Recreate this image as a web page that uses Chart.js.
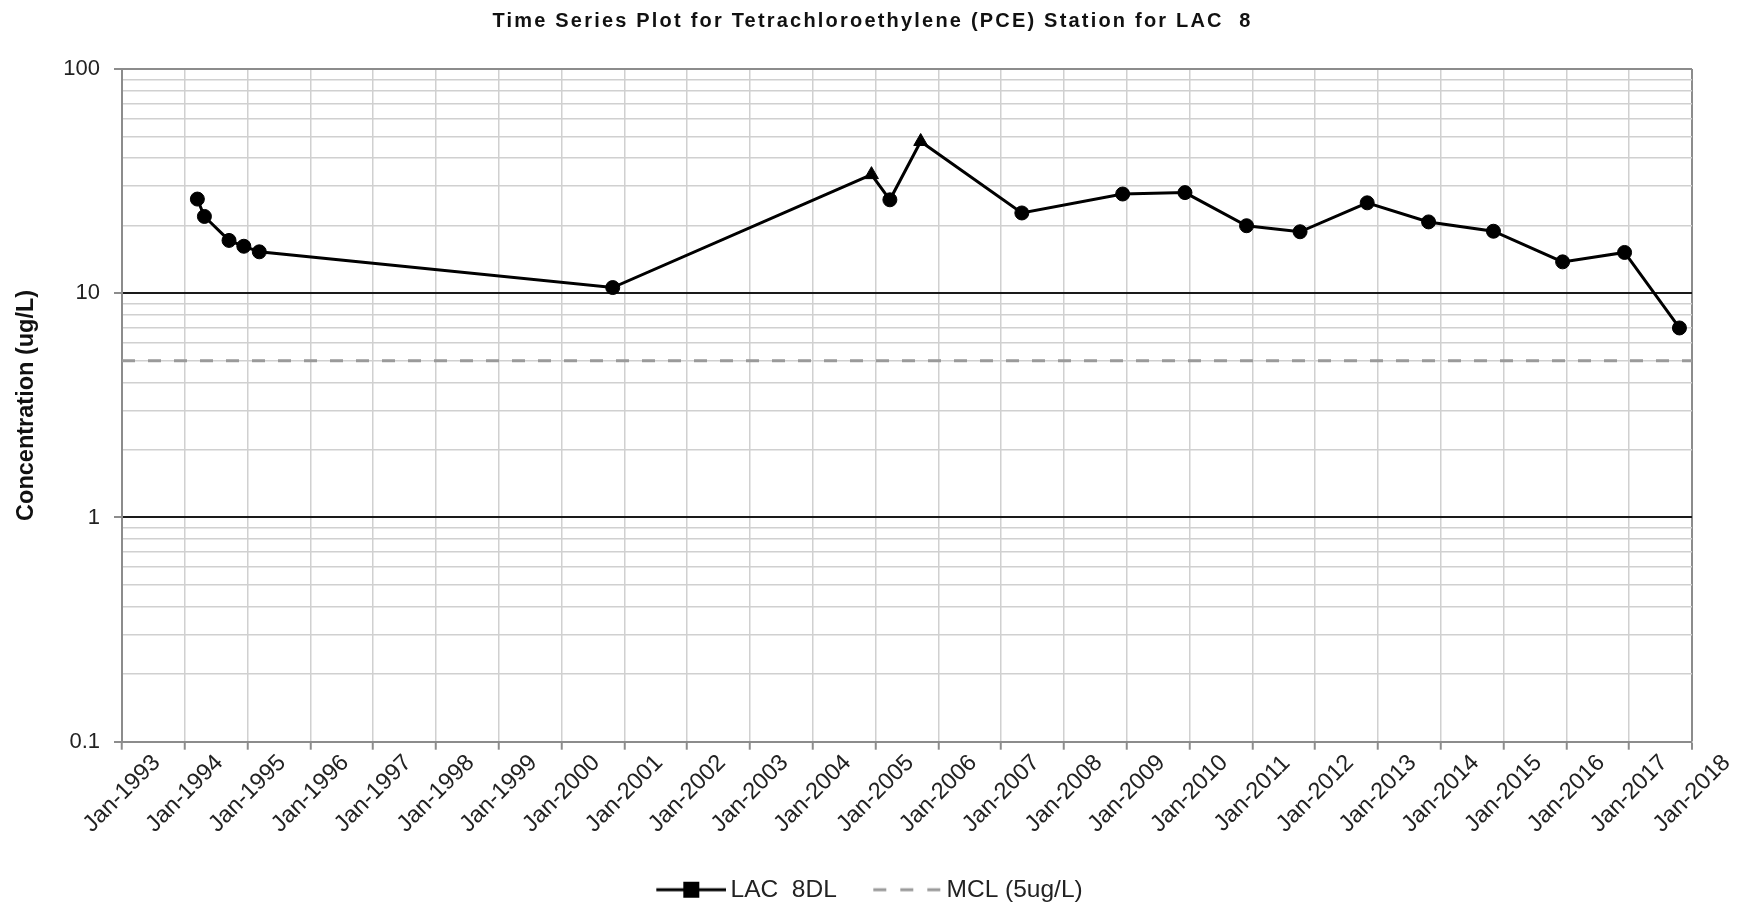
<!DOCTYPE html>
<html>
<head>
<meta charset="utf-8">
<title>PCE Time Series - LAC 8</title>
<script src="https://cdn.jsdelivr.net/npm/chart.js@4.4.1/dist/chart.umd.min.js"></script>
<style>
    html, body { margin: 0; padding: 0; background: #fff; }
    #wrap { width: 1745px; height: 907px; }
</style>
</head>
<body>
<div id="wrap"><canvas id="pceChart" width="1745" height="907"></canvas></div>
<script>
// ================= DATA =================

const sampleDates = [
    "1994-03-15", "1994-04-25", "1994-09-15", "1994-12-10", "1995-03-10",
    "2000-10-25", "2004-12-08", "2005-03-25", "2005-09-20", "2007-05-01",
    "2008-12-08", "2009-12-05", "2010-11-28", "2011-10-05", "2012-10-30",
    "2013-10-22", "2014-11-03", "2015-12-10", "2016-12-05", "2017-10-20",
];

// PCE results in ug/L
const pceValues = [
    26.3, 22.0, 17.2, 16.2, 15.3,
    10.6, 33.8, 26.1, 47.5, 22.8,
    27.7, 28.1, 20.0, 18.8, 25.3,
    20.8, 18.9, 13.8, 15.2, 7.0,
];

// "J" = estimated result (plotted as a triangle)
const qualifiers = [
    "", "", "", "", "",
    "", "J", "", "J", "",
    "", "", "", "", "",
    "", "", "", "", "",
];

const mclValue = 5;
const yearRange = [1993, 2018];
const yTickLabels = [0.1, 1, 10, 100];

const seriesLabel = "LAC  8DL";
const mclLabel = "MCL (5ug/L)";
const chartTitle = "Time Series Plot for Tetrachloroethylene (PCE) Station for LAC  8";
const yAxisTitle = "Concentration (ug/L)";

// ================= HELPERS =================

const FONT = '"Liberation Sans", Arial, sans-serif';
const AXIS_GREY = "#8c8c8c";
const GRID_GREY = "#d0d0d0";

function toDecimalYear(iso) {
    const d = new Date(iso + "T00:00:00Z");
    const y = d.getUTCFullYear();
    const start = Date.UTC(y, 0, 1);
    const end = Date.UTC(y + 1, 0, 1);
    return y + (d.getTime() - start) / (end - start);
}

function isDecade(v) {
    const l = Math.log10(v);
    return Math.abs(l - Math.round(l)) < 1e-6;
}

// small canvases used as legend symbols
function legendSymbol(draw) {
    const c = document.createElement("canvas");
    c.width = 72;
    c.height = 20;
    draw(c.getContext("2d"));
    return c;
}

const lacSymbol = legendSymbol((g) => {
    g.strokeStyle = "#000";
    g.lineWidth = 3;
    g.beginPath();
    g.moveTo(2, 10);
    g.lineTo(72, 10);
    g.stroke();
    g.fillStyle = "#000";
    g.fillRect(29, 2, 16, 16);
});

const mclSymbol = legendSymbol((g) => {
    g.strokeStyle = "#9a9a9a";
    g.lineWidth = 3;
    g.setLineDash([13, 14]);
    g.beginPath();
    g.moveTo(3, 10);
    g.lineTo(72, 10);
    g.stroke();
});

// x labels are centred under each tick and slanted 45 degrees
const slantedYearLabels = {
    id: "slantedYearLabels",
    afterDraw(chart) {
        const xs = chart.scales.x;
        const ctx = chart.ctx;
        ctx.save();
        ctx.font = "23.5px " + FONT;
        ctx.fillStyle = "#222";
        ctx.textAlign = "center";
        ctx.textBaseline = "middle";
        xs.ticks.forEach((t) => {
            const px = xs.getPixelForValue(t.value);
            ctx.save();
            ctx.translate(px, xs.top + 52);
            ctx.rotate(-Math.PI / 4);
            ctx.fillText(t.label || "Jan-" + t.value, 0, 0);
            ctx.restore();
        });
        ctx.restore();
    },
};

// the chart title is set with a little extra tracking
const spacedTitle = {
    id: "spacedTitle",
    beforeDraw(chart) {
        const block = chart.titleBlock;
        if (!block || block._spaced) return;
        const draw = block.draw;
        block.draw = function (...args) {
            const ctx = this.ctx;
            const prev = ctx.letterSpacing;
            ctx.letterSpacing = "2.2px";
            draw.apply(this, args);
            ctx.letterSpacing = prev || "0px";
        };
        block._spaced = true;
    },
};

// ================= CHART =================

Chart.defaults.font.family = FONT;

const lacPoints = sampleDates.map((d, i) => ({ x: toDecimalYear(d), y: pceValues[i] }));
const mclPoints = [
    { x: yearRange[0], y: mclValue },
    { x: yearRange[1], y: mclValue },
];

new Chart(document.getElementById("pceChart"), {
    type: "line",
    data: {
        datasets: [
            {
                label: seriesLabel,
                data: lacPoints,
                borderColor: "#000",
                borderWidth: 3,
                tension: 0,
                pointStyle: qualifiers.map((q) => (q === "J" ? "triangle" : "circle")),
                pointRadius: qualifiers.map((q) => (q === "J" ? 8 : 7)),
                pointBackgroundColor: "#000",
                pointBorderColor: "#000",
                pointBorderWidth: 1,
            },
            {
                label: mclLabel,
                data: mclPoints,
                borderColor: "#9a9a9a",
                borderWidth: 3,
                borderDash: [13, 13],
                pointRadius: 0,
            },
        ],
    },
    options: {
        responsive: false,
        animation: false,
        layout: { padding: { left: 0, right: 0, top: 0, bottom: -5 } },
        plugins: {
            title: {
                display: true,
                text: chartTitle,
                color: "#111",
                font: { size: 20, weight: "bold" },
                padding: { top: 9, bottom: 36 },
            },
            legend: {
                position: "bottom",
                labels: {
                    usePointStyle: true,
                    pointStyleWidth: 56,
                    color: "#222",
                    font: { size: 24.5 },
                    padding: 41.5,
                    generateLabels: () => [
                        { text: seriesLabel, pointStyle: lacSymbol, fontColor: "#222", datasetIndex: 0 },
                        { text: mclLabel, pointStyle: mclSymbol, fontColor: "#222", datasetIndex: 1 },
                    ],
                },
            },
            tooltip: { enabled: false },
        },
        scales: {
            x: {
                type: "linear",
                min: yearRange[0],
                max: yearRange[1],
                afterFit(scale) {
                    scale.height = 94.3;
                    // room on the right for the last slanted label
                    scale.paddingRight = 53;
                },
                ticks: {
                    display: false,
                    stepSize: 1,
                    autoSkip: false,
                    callback: (v) => "Jan-" + v,
                },
                grid: {
                    color: (c) => (c.tick && c.tick.value === yearRange[1] ? AXIS_GREY : GRID_GREY),
                    lineWidth: (c) => (c.tick && c.tick.value === yearRange[1] ? 2 : 1.5),
                    tickLength: 8,
                    tickColor: AXIS_GREY,
                    tickWidth: 2,
                },
                border: { color: AXIS_GREY, width: 2 },
            },
            y: {
                type: "logarithmic",
                min: 0.1,
                max: 100,
                afterFit(scale) {
                    scale.width = 122;
                },
                afterBuildTicks(scale) {
                    const ticks = [];
                    for (let e = -1; e <= 1; e++) {
                        for (let k = 1; k <= 9; k++) {
                            ticks.push(Number((k * Math.pow(10, e)).toPrecision(3)));
                        }
                    }
                    ticks.push(100);
                    scale.ticks = ticks.map((v) => ({ value: v, major: isDecade(v) }));
                },
                ticks: {
                    autoSkip: false,
                    padding: 14,
                    color: "#222",
                    font: { size: 22 },
                    callback: (v) => (yTickLabels.includes(v) ? String(v) : ""),
                },
                grid: {
                    color: (c) => {
                        const v = c.tick && c.tick.value;
                        if (v === 0.1 || v === 100) return AXIS_GREY;
                        return isDecade(v) ? "#1a1a1a" : GRID_GREY;
                    },
                    lineWidth: (c) => (c.tick && isDecade(c.tick.value) ? 2 : 1.5),
                    tickLength: 8,
                    tickColor: (c) => (c.tick && isDecade(c.tick.value) ? AXIS_GREY : "rgba(0,0,0,0)"),
                    tickWidth: 2,
                },
                border: { color: AXIS_GREY, width: 2 },
                title: {
                    display: true,
                    text: yAxisTitle,
                    color: "#111",
                    font: { size: 23.5, weight: "bold" },
                    padding: { top: 12.5, bottom: 0 },
                },
            },
        },
    },
    plugins: [slantedYearLabels, spacedTitle],
});
</script>
</body>
</html>
